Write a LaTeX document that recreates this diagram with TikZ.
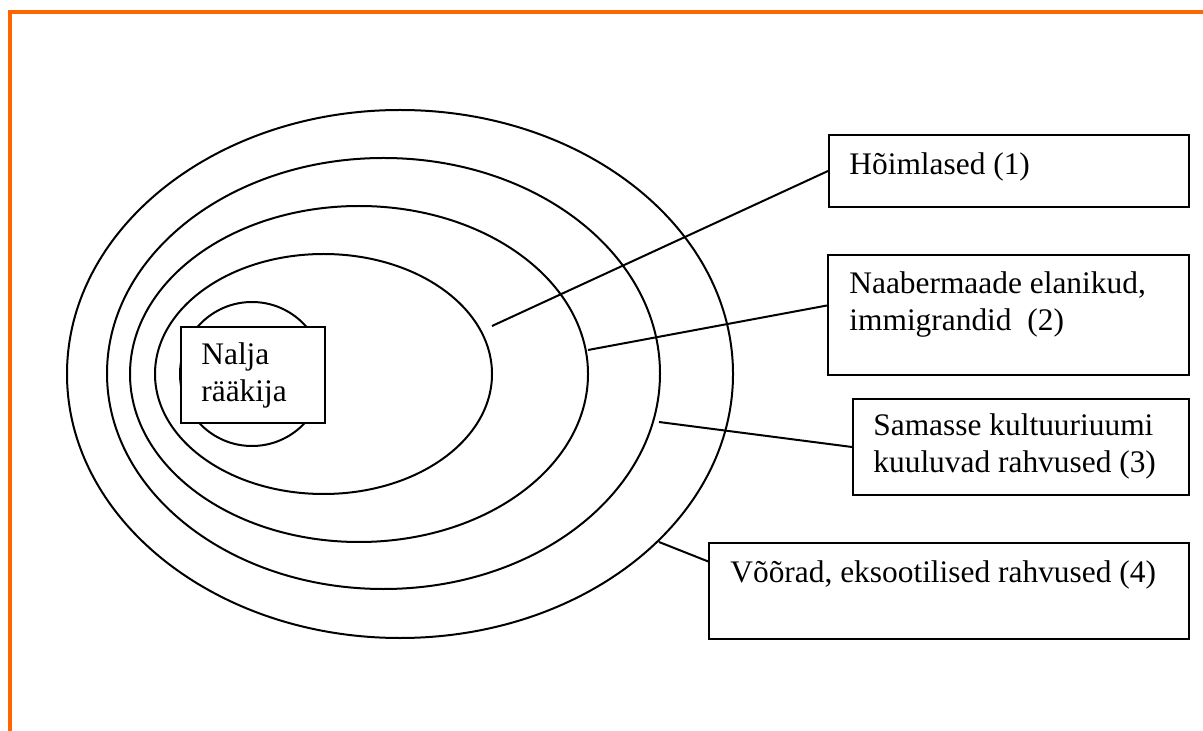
\documentclass[tikz,border=0pt]{standalone}
\usepackage{fontspec}
\setmainfont{Liberation Serif}
\usetikzlibrary{shapes.geometric}
\definecolor{frameorange}{HTML}{FF6600}
\tikzset{
  ring/.style={draw=black, line width=1pt, ellipse, inner sep=0pt},
  labelbox/.style={draw=black, line width=1pt, fill=white, rectangle, inner sep=0pt, anchor=north west},
  lbl/.style={inner sep=0pt, anchor=base west, align=left, font=\fontsize{15.7pt}{18.5pt}\selectfont},
  link/.style={draw=black, line width=1pt},
}
\begin{document}
\begin{tikzpicture}[x=0.5pt, y=-0.5pt]
\useasboundingbox (0,0) rectangle (1203,731);
\draw[frameorange, line width=2pt, line join=miter] (10,731) -- (10,12) -- (1203,12);

% rings
\node[ring, minimum width=333pt, minimum height=264pt] (e4) at (400,374) {};
\node[ring, minimum width=276.5pt, minimum height=215.5pt] (e3) at (383.5,373.5) {};
\node[ring, minimum width=229pt, minimum height=168pt] (e2) at (359,374) {};
\node[ring, minimum width=168.5pt, minimum height=120pt] (e1) at (323.5,374) {};
\node[ring, circle, minimum size=72pt] (c0) at (252,374) {};

% free ends of connectors
\coordinate (p1) at (492,326);
\coordinate (p2) at (588,350);
\coordinate (p3) at (659,422);
\coordinate (p4) at (659,542);

% label boxes
\node[labelbox, minimum width=180pt, minimum height=36pt] (b1) at (828,134) {};
\node[labelbox, minimum width=180.5pt, minimum height=60pt] (b2) at (827,254) {};
\node[labelbox, minimum width=168pt, minimum height=48pt] (b3) at (852,398) {};
\node[labelbox, minimum width=240pt, minimum height=48pt] (b4) at (708,542) {};

% connectors
\draw[link] (p1) -- (b1.west);
\draw[link] (p2) -- (b2.177.5);
\draw[link] (p3) -- (b3.west);
\draw[link] (p4) -- (b4.173);

% centre box
\node[labelbox, minimum width=72pt, minimum height=48pt] (b0) at (180,326) {};

% texts (base anchor of a multi-line node = baseline of its last line)
\node[lbl] (t0) at (201,402) {Nalja\\rääkija};
\node[lbl] (t1) at (849,175) {Hõimlased (1)};
\node[lbl] (t2) at (849,331) {Naabermaade elanikud,\\immigrandid\ \ (2)};
\node[lbl] (t3) at (873,473) {Samasse kultuuriuumi\\kuuluvad rahvused (3)};
\node[lbl] (t4) at (730,582) {Võõrad, eksootilised rahvused (4)};
\end{tikzpicture}
\end{document}
